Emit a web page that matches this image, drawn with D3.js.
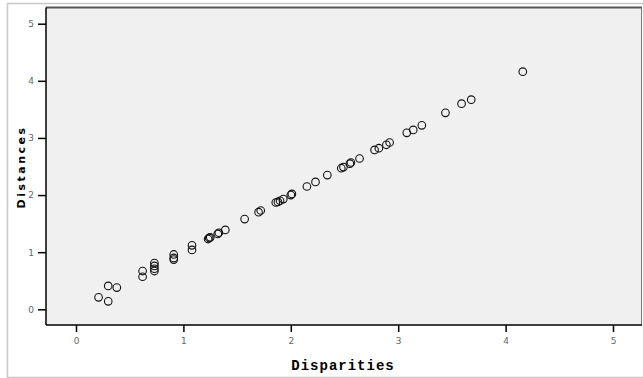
<!DOCTYPE html>
<html>
<head>
<meta charset="utf-8">
<script src="https://cdn.jsdelivr.net/npm/d3@7"></script>
<style>
body { margin: 0; background: #fff; }
</style>
</head>
<body>
<div id="chart"></div>
<script>
// disparities (x) and distances (y)
var disparities = [0.21, 0.30, 0.30, 0.38, 0.62, 0.62, 0.73, 0.73, 0.73, 0.73,
  0.91, 0.91, 0.91, 1.08, 1.08, 1.23, 1.24, 1.25, 1.32, 1.33,
  1.39, 1.57, 1.70, 1.72, 1.86, 1.88, 1.90, 1.93, 2.00, 2.01,
  2.15, 2.23, 2.34, 2.47, 2.49, 2.55, 2.56, 2.64, 2.78, 2.82,
  2.89, 2.92, 3.08, 3.14, 3.22, 3.44, 3.59, 3.68, 4.16];
var distances = [0.21, 0.14, 0.41, 0.38, 0.67, 0.57, 0.81, 0.76, 0.71, 0.67,
  0.96, 0.90, 0.87, 1.12, 1.04, 1.23, 1.25, 1.26, 1.32, 1.34,
  1.39, 1.58, 1.70, 1.73, 1.87, 1.88, 1.90, 1.93, 2.00, 2.02,
  2.15, 2.23, 2.35, 2.47, 2.49, 2.55, 2.57, 2.64, 2.79, 2.82,
  2.88, 2.92, 3.09, 3.14, 3.22, 3.44, 3.60, 3.67, 4.16];
var xTicks = [0, 1, 2, 3, 4, 5];
var yTicks = [0, 1, 2, 3, 4, 5];

var W = 643, H = 378;
var plot = {left: 46, right: 642, top: 7.5, bottom: 325};

var svg = d3.select("#chart").append("svg")
  .attr("width", W).attr("height", H);

// outer frame
svg.append("rect")
  .attr("x", 7.5).attr("y", 3.5)
  .attr("width", W).attr("height", 374)
  .attr("fill", "#fff").attr("stroke", "#c8c8c8").attr("stroke-width", 1.5);

var x = d3.scaleLinear().domain([0, 5]).range([76, 613]);
var y = d3.scaleLinear().domain([0, 5]).range([309.3, 23.7]);

// plot background
svg.append("rect")
  .attr("x", plot.left).attr("y", plot.top)
  .attr("width", plot.right - plot.left).attr("height", plot.bottom - plot.top)
  .attr("fill", "#f0f0f0");

// top and right borders
svg.append("line")
  .attr("x1", plot.left).attr("x2", plot.right)
  .attr("y1", plot.top).attr("y2", plot.top)
  .attr("stroke", "#555").attr("stroke-width", 2);
svg.append("line")
  .attr("x1", plot.right - 0.5).attr("x2", plot.right - 0.5)
  .attr("y1", plot.top).attr("y2", plot.bottom)
  .attr("stroke", "#777").attr("stroke-width", 1);

// axes
var xAxis = svg.append("g")
  .attr("transform", "translate(0," + plot.bottom + ")")
  .call(d3.axisBottom(x).tickValues(xTicks).tickFormat(d3.format("d"))
    .tickSize(7).tickPadding(6).tickSizeOuter(0));
var yAxis = svg.append("g")
  .attr("transform", "translate(" + plot.left + ",0)")
  .call(d3.axisLeft(y).tickValues(yTicks).tickFormat(d3.format("d"))
    .tickSize(8).tickPadding(4).tickSizeOuter(0));

[xAxis, yAxis].forEach(function(g) {
  g.select(".domain").remove();
  g.selectAll(".tick line").attr("stroke", "#000").attr("stroke-width", 1.5);
  g.selectAll(".tick text")
    .attr("fill", "#666")
    .style("font-family", "'DejaVu Sans', sans-serif")
    .style("font-size", "9px");
});

// axis lines
svg.append("line")
  .attr("x1", plot.left).attr("x2", plot.right)
  .attr("y1", plot.bottom).attr("y2", plot.bottom)
  .attr("stroke", "#000").attr("stroke-width", 1.5);
svg.append("line")
  .attr("x1", plot.left).attr("x2", plot.left)
  .attr("y1", plot.top).attr("y2", plot.bottom)
  .attr("stroke", "#000").attr("stroke-width", 1.5);

// points
var pts = disparities.map(function(d, i) { return {x: d, y: distances[i]}; });
svg.append("g").selectAll("circle")
  .data(pts).enter().append("circle")
  .attr("cx", function(d) { return x(d.x); })
  .attr("cy", function(d) { return y(d.y); })
  .attr("r", 3.8)
  .attr("fill", "none")
  .attr("stroke", "#111")
  .attr("stroke-width", 1.1);

// axis titles
svg.append("text")
  .attr("x", 343).attr("y", 370)
  .attr("text-anchor", "middle")
  .style("font-family", "'Liberation Mono', 'Courier New', monospace")
  .style("font-weight", "bold")
  .style("font-size", "14px")
  .style("letter-spacing", "1px")
  .text("Disparities");

svg.append("text")
  .attr("transform", "translate(24.5,167) rotate(-90)")
  .attr("text-anchor", "middle")
  .style("font-family", "'DejaVu Sans', sans-serif")
  .style("font-weight", "bold")
  .style("font-size", "11px")
  .style("letter-spacing", "2.5px")
  .text("Distances");
</script>
</body>
</html>
